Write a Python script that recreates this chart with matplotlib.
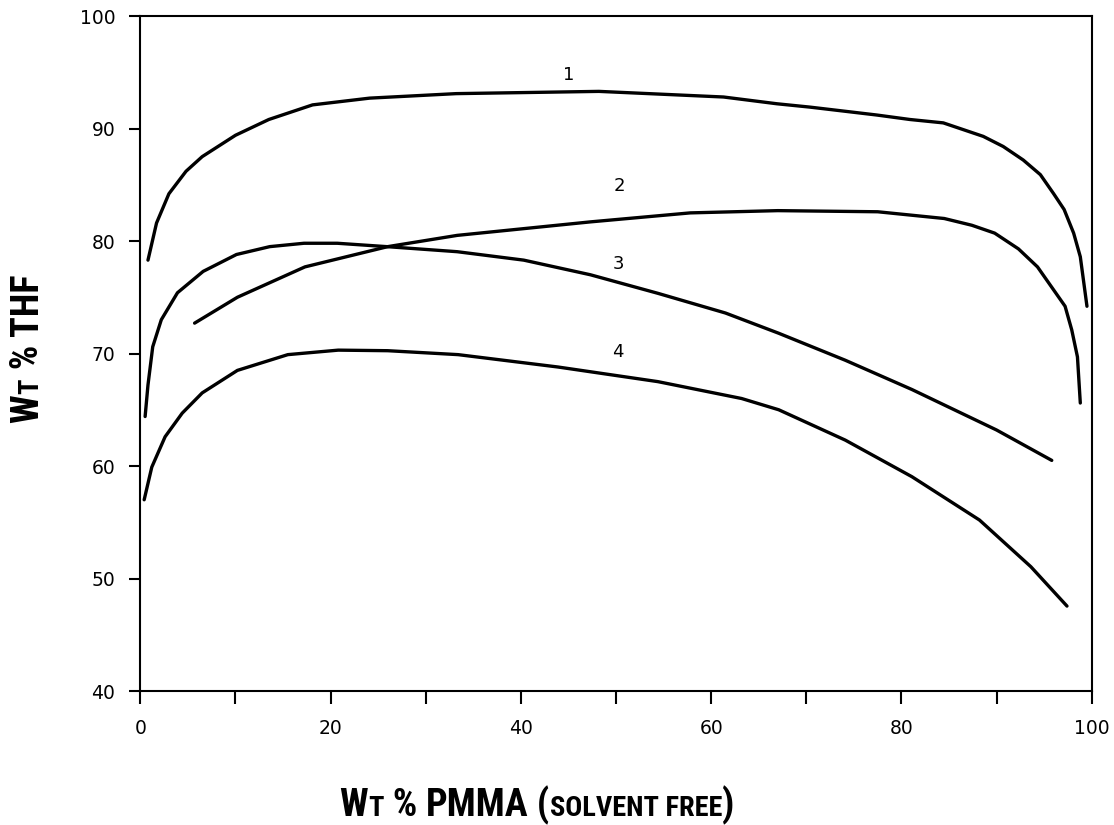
import matplotlib
matplotlib.use("Agg")
import matplotlib.pyplot as plt
from matplotlib import font_manager

# data (x = wt % PMMA, y = wt % THF)
curve1_x = [0.8, 1.7, 3.0, 4.8, 6.5, 10.0, 13.5, 18.1, 24.1, 33.2, 48.2, 61.3, 66.9, 70.4, 77.4, 80.9,
            84.4, 86.5, 88.6, 90.7, 92.8, 94.6, 96.0, 97.1, 98.1, 98.8, 99.5]
curve1_y = [78.3, 81.6, 84.2, 86.2, 87.5, 89.4, 90.8, 92.1, 92.7, 93.1, 93.3, 92.8, 92.2, 91.9, 91.2, 90.8,
            90.5, 89.9, 89.3, 88.4, 87.2, 85.9, 84.2, 82.8, 80.7, 78.6, 74.2]

curve2_x = [5.7, 10.2, 17.3, 26.0, 33.3, 47.3, 57.8, 67.0, 77.5, 84.5, 87.4, 89.8, 92.3, 94.3, 97.2, 97.9, 98.5, 98.8]
curve2_y = [72.7, 75.0, 77.7, 79.5, 80.5, 81.7, 82.5, 82.7, 82.6, 82.0, 81.4, 80.7, 79.3, 77.7, 74.2, 72.1, 69.7, 65.6]

curve3_x = [0.5, 0.8, 1.3, 2.2, 3.9, 6.6, 10.1, 13.6, 17.2, 20.7, 25.9, 33.3, 40.3, 47.3, 54.4, 61.5,
            67.1, 74.1, 81.1, 90.0, 95.8]
curve3_y = [64.4, 67.2, 70.6, 73.0, 75.4, 77.3, 78.8, 79.5, 79.8, 79.8, 79.5, 79.05, 78.3, 77.0, 75.35, 73.6,
            71.8, 69.4, 66.8, 63.2, 60.5]

curve4_x = [0.4, 1.2, 2.6, 4.4, 6.5, 10.2, 15.5, 20.8, 26.0, 33.4, 43.9, 54.4, 63.2, 67.1, 74.1, 81.1,
            88.2, 93.6, 97.4]
curve4_y = [57.0, 59.9, 62.6, 64.7, 66.5, 68.5, 69.9, 70.3, 70.25, 69.9, 68.8, 67.5, 66.0, 65.0, 62.3, 59.05,
            55.2, 51.05, 47.55]

curve_labels = ["1", "2", "3", "4"]
label_x = [45.0, 50.3, 50.3, 50.2]
label_y = [94.8, 84.9, 77.95, 70.1]

x_ticks = [0, 20, 40, 60, 80, 100]
x_minor = [10, 30, 50, 70, 90]
y_ticks = [40, 50, 60, 70, 80, 90, 100]

BIG, SMALL = 27, 20
xlabel_pieces = [("W", BIG), ("T", SMALL), (" % ", BIG), ("PMMA", BIG), (" (", BIG),
                 ("SOLVENT FREE", SMALL), (")", BIG)]
ylabel_pieces = [("W", BIG), ("T", SMALL), (" % ", BIG), ("THF", BIG)]

# pick the narrowest bold family that is installed
_installed = {f.name for f in font_manager.fontManager.ttflist}
LABEL_FONT = next(f for f in ["Liberation Sans Narrow", "DejaVu Sans Condensed", "Roboto Condensed",
                              "Liberation Sans", "DejaVu Sans"] if f in _installed)


def draw_mixed_label(fig, pieces, cx, cy, target_px=None, scale=None, vertical=False):
    """Draws a label made of pieces with different sizes (fake small caps),
    centred at (cx, cy) in figure coordinates. Either scaled to target_px long
    or by a given scale. Returns the scale used."""
    renderer = fig.canvas.get_renderer()
    texts = []
    for s, size in pieces:
        t = fig.text(0, 0, s, fontsize=size, fontweight="bold", family=LABEL_FONT,
                     rotation=90 if vertical else 0, rotation_mode="anchor",
                     ha="left", va="baseline")
        texts.append(t)

    def measure():
        out = []
        for t in texts:
            ext = t.get_window_extent(renderer)
            out.append(ext.height if vertical else ext.width)
        return out

    if scale is None:
        scale = target_px / sum(measure())
    for t, (s, size) in zip(texts, pieces):
        t.set_fontsize(size * scale)
    lengths = measure()
    fsize = fig.bbox.height if vertical else fig.bbox.width
    pos = (cy if vertical else cx) - sum(lengths) / fsize / 2
    for t, length in zip(texts, lengths):
        t.set_position((cx, pos) if vertical else (pos, cy))
        pos += length / fsize
    return scale


fig = plt.figure(figsize=(11.14, 8.25), dpi=100)
ax = fig.add_axes([0.126, 0.1624, 0.854, 0.8182])

for xs, ys in [(curve1_x, curve1_y), (curve2_x, curve2_y), (curve3_x, curve3_y), (curve4_x, curve4_y)]:
    ax.plot(xs, ys, color="black", lw=2.4, solid_capstyle="round", solid_joinstyle="round")

for lab, lx, ly in zip(curve_labels, label_x, label_y):
    ax.text(lx, ly, lab, fontsize=13, ha="center", va="center", family="DejaVu Sans")

ax.set_xlim(0, 100)
ax.set_ylim(40, 100)
ax.set_xticks(x_ticks)
ax.set_xticks(x_minor, minor=True)
ax.set_yticks(y_ticks)
ax.tick_params(axis="both", which="both", direction="out", width=1.5, labelsize=13.5)
ax.tick_params(axis="x", which="both", length=9, pad=11)
ax.tick_params(axis="y", length=8, pad=10)
for spine in ax.spines.values():
    spine.set_linewidth(1.5)

fig.canvas.draw()
label_scale = draw_mixed_label(fig, xlabel_pieces, 0.482, 0.011, target_px=395)
draw_mixed_label(fig, ylabel_pieces, 0.0345, 0.578, scale=label_scale, vertical=True)

fig.savefig("out.png", dpi=100)
